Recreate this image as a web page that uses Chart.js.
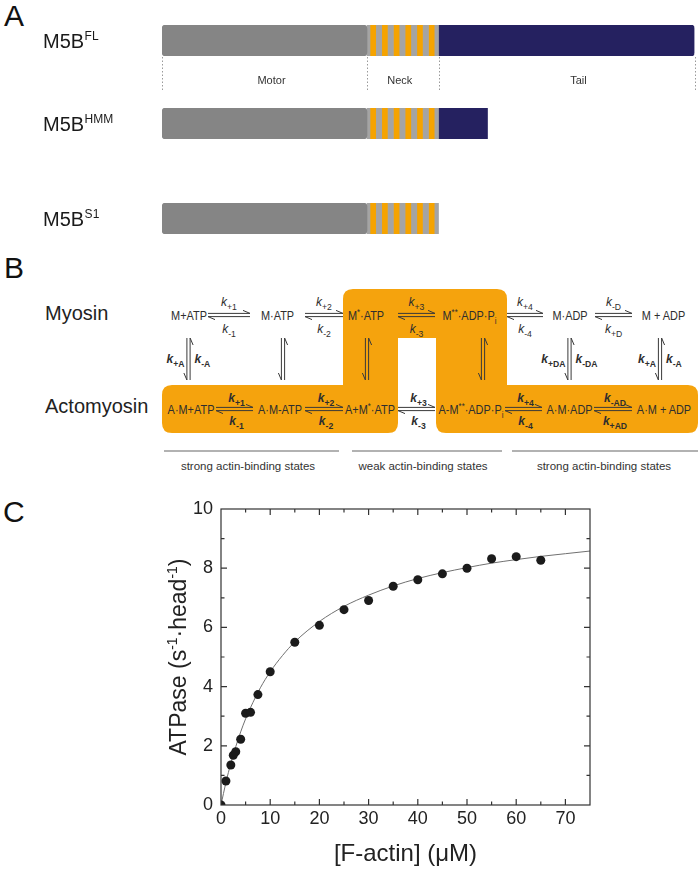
<!DOCTYPE html>
<html>
<head>
<meta charset="utf-8">
<script src="https://cdn.jsdelivr.net/npm/chart.js@4.4.1/dist/chart.umd.min.js"></script>
<style>
  body { margin: 0; background: #fff; }
  #page { position: relative; width: 700px; height: 869px; overflow: hidden; }
  #page canvas, #page svg { position: absolute; left: 0; }
</style>
</head>
<body>
<div id="page">
  <svg id="scheme" width="700" height="869" style="top:0"></svg>
  <canvas id="atpase" width="700" height="409" style="top:460px"></canvas>
</div>
<script>
// --- panel A: domain maps (arbitrary length units) ---
var constructs = ['FL', 'HMM', 'S1'];
var motorLength = [205, 205, 205];
var neckParts = [3, 5.7, 6, 5.7, 6, 5.7, 6, 5.7, 6, 5.7, 6, 5.7, 4.3]; // linker, IQ, linker, IQ ...
var tailLength = [256, 49, 0];
var domainNames = ['Motor', 'Neck', 'Tail'];

// --- panel C: actin-activated ATPase ---
var actinConc = [0, 1, 2, 2.5, 3, 4, 5, 6, 7.5, 10, 15, 20, 25, 30, 35, 40, 45, 50, 55, 60, 65];
var atpaseRate = [0, 0.81, 1.35, 1.68, 1.80, 2.22, 3.10, 3.13, 3.73, 4.50, 5.50, 6.07, 6.60, 6.91, 7.39, 7.61, 7.81, 8.00, 8.32, 8.39, 8.27];
var fitConc = [0, 1, 2, 3, 4, 5, 6, 8, 10, 12.5, 15, 20, 25, 30, 35, 40, 45, 50, 55, 60, 65, 70, 75];
var fitRate = [0, 0.76, 1.41, 1.97, 2.47, 2.91, 3.29, 3.96, 4.50, 5.05, 5.51, 6.20, 6.71, 7.09, 7.40, 7.65, 7.85, 8.02, 8.17, 8.29, 8.40, 8.49, 8.58];
var xTicks = [0, 10, 20, 30, 40, 50, 60, 70];
var yTicks = [0, 2, 4, 6, 8, 10];

var SANS = "'Liberation Sans', Arial, sans-serif";
var page = document.getElementById('page');

// ================= panel A =================
var rowTop = [25, 108, 202.5];
var domainLabelShift = [7, -3, 12];
var neckTotal = neckParts.reduce(function (a, b) { return a + b; }, 0);
var fullLength = motorLength[0] + neckTotal + tailLength[0];

var nameTag = {
  id: 'nameTag',
  afterDraw: function (chart) {
    var c = chart.ctx, a = chart.chartArea;
    var base = (a.top + a.bottom) / 2 + 7;
    c.save();
    c.fillStyle = '#1a1a1a';
    c.font = '20px ' + SANS;
    c.fillText('M5B', 43, base);
    var w = c.measureText('M5B').width;
    c.font = '12px ' + SANS;
    c.fillText(chart.data.labels[0], 43 + w + 0.5, base - 7.5);
    c.restore();
  }
};

var domainGuide = {
  id: 'domainGuide',
  afterDraw: function (chart) {
    var c = chart.ctx, a = chart.chartArea, xs = chart.scales.x;
    var edges = [0, motorLength[0], motorLength[0] + neckTotal, fullLength];
    c.save();
    c.strokeStyle = '#9a9a9a';
    c.lineWidth = 1;
    c.setLineDash([1.5, 2]);
    edges.forEach(function (v) {
      var px = Math.round(xs.getPixelForValue(v)) + 0.5;
      c.beginPath(); c.moveTo(px, a.bottom + 1); c.lineTo(px, a.bottom + 36); c.stroke();
    });
    c.fillStyle = '#333';
    c.font = '11px ' + SANS;
    c.textAlign = 'center';
    domainNames.forEach(function (n, k) {
      c.fillText(n, xs.getPixelForValue((edges[k] + edges[k + 1]) / 2) + domainLabelShift[k], a.bottom + 28);
    });
    c.restore();
  }
};

constructs.forEach(function (name, i) {
  var sets = [];
  var pos = motorLength[i];
  sets.push({ label: 'Motor', data: [[0, pos]], backgroundColor: '#858585', borderRadius: 4 });
  neckParts.forEach(function (w, j) {
    sets.push({ label: j % 2 ? 'IQ' : 'linker', data: [[pos, pos + w]],
      backgroundColor: j % 2 ? '#f5a300' : '#a4a4a4', borderRadius: 0 });
    pos += w;
  });
  if (tailLength[i] > 0) {
    sets.push({ label: 'Tail', data: [[pos, pos + tailLength[i]]], backgroundColor: '#252160',
      borderRadius: i === 0 ? { topLeft: 0, bottomLeft: 0, topRight: 4, bottomRight: 4 } : 0 });
  }
  sets.forEach(function (s) {
    s.borderSkipped = false; s.grouped = false; s.barPercentage = 1; s.categoryPercentage = 1;
  });

  var padTop = i === 0 ? 25 : 10;
  var h = i === 0 ? 100 : 51;
  var cv = document.createElement('canvas');
  cv.width = 700; cv.height = h;
  cv.style.top = (rowTop[i] - padTop) + 'px';
  page.appendChild(cv);

  new Chart(cv, {
    type: 'bar',
    data: { labels: [name], datasets: sets },
    options: {
      indexAxis: 'y',
      responsive: false,
      animation: false,
      layout: { padding: { left: 162, right: 700 - 162 - fullLength, top: padTop, bottom: h - padTop - 31 } },
      plugins: { legend: { display: false }, tooltip: { enabled: false } },
      scales: {
        x: { type: 'linear', min: 0, max: fullLength, display: false },
        y: { display: false }
      }
    },
    plugins: i === 0 ? [nameTag, domainGuide] : [nameTag]
  });
});

// ================= panel B (kinetic scheme, svg) =================
var S = document.getElementById('scheme');
function add(tag, attrs, parent) {
  var e = document.createElementNS('http://www.w3.org/2000/svg', tag);
  for (var k in attrs) e.setAttribute(k, attrs[k]);
  (parent || S).appendChild(e);
  return e;
}
function text(x, y, parts, o) {
  var size = o.size;
  var t = add('text', { x: 0, y: 0, transform: 'translate(' + x + ' ' + y + ') scale(' + (o.squeeze || 1) + ' 1)',
    'text-anchor': o.anchor || 'middle', 'font-size': size, 'font-family': SANS,
    'font-weight': o.bold ? 'bold' : 'normal', fill: o.color || '#2e2e2e' });
  var shift = 0;
  parts.forEach(function (p) {
    if (typeof p === 'string') p = [p, ''];
    var target = p[1] === 'sup' ? -size * 0.38 : p[1] === 'sub' ? size * 0.3 : 0;
    var ts = add('tspan', { dy: target - shift }, t);
    if (p[1]) ts.setAttribute('font-size', size * 0.72);
    if (p[2]) ts.setAttribute('font-style', 'italic');
    ts.textContent = p[0];
    shift = target;
  });
}
function rate(x, y, sub, bold, anchor) {
  text(x, y, [['k', '', 'i'], [sub, 'sub']], { size: 12, bold: bold, anchor: anchor });
}

// orange background of the actin-bound / hydrolysis states
var r = 10;
add('path', { fill: '#f5a30d', d:
  'M' + (343 + r) + ' 289H' + (507 - r) + 'Q507 289 507 ' + (289 + r) + 'V385H' + (698 - r) +
  'Q698 385 698 ' + (385 + r) + 'V' + (433 - r) + 'Q698 433 ' + (698 - r) + ' 433H' + (436 + r) +
  'Q436 433 436 ' + (433 - r) + 'V338H398V' + (433 - r) + 'Q398 433 ' + (398 - r) + ' 433H' + (162 + r) +
  'Q162 433 162 ' + (433 - r) + 'V' + (385 + r) + 'Q162 385 ' + (162 + r) + ' 385H343V' + (289 + r) +
  'Q343 289 ' + (343 + r) + ' 289Z' });

// panel letters and row names
text(4, 26, ['A'], { size: 30, anchor: 'start', color: '#111' });
text(4, 278, ['B'], { size: 30, anchor: 'start', color: '#111' });
text(3, 522, ['C'], { size: 30, anchor: 'start', color: '#111' });
text(45, 320, ['Myosin'], { size: 20, anchor: 'start', color: '#222' });
text(45, 413, ['Actomyosin'], { size: 20, anchor: 'start', color: '#222' });

// species
var row1 = [[189, ['M+ATP']], [277.5, ['M·ATP']], [366, ['M', ['*', 'sup'], '·ATP']],
  [469.5, ['M', ['**', 'sup'], '·ADP·P', ['i', 'sub']]], [570, ['M·ADP']], [663.5, ['M + ADP']]];
var row2 = [[191, ['A·M+ATP']], [280, ['A·M-ATP']], [370, ['A+M', ['*', 'sup'], '·ATP']],
  [471, ['A-M', ['**', 'sup'], '·ADP·P', ['i', 'sub']]], [569.5, ['A·M·ADP']], [664, ['A·M + ADP']]];
row1.forEach(function (s) { text(s[0], 320, s[1], { size: 13, squeeze: 0.84 }); });
row2.forEach(function (s) { text(s[0], 414, s[1], { size: 13, squeeze: 0.84 }); });

// arrows
var arrows = '';
function eq(x1, x2, y) {
  arrows += 'M' + x1 + ' ' + (y - 1.6) + 'H' + x2 + 'L' + (x2 - 7) + ' ' + (y - 4.6) +
            'M' + x2 + ' ' + (y + 1.6) + 'H' + x1 + 'L' + (x1 + 7) + ' ' + (y + 4.6);
}
function vert(x, y1, y2) {
  arrows += 'M' + (x - 1.6) + ' ' + y1 + 'V' + y2 + 'L' + (x - 4.6) + ' ' + (y2 - 7) +
            'M' + (x + 1.6) + ' ' + y2 + 'V' + y1 + 'L' + (x + 4.6) + ' ' + (y1 + 7);
}
var row1Eq = [[208, 250, '+1', '-1'], [305, 343, '+2', '-2'], [398, 435, '+3', '-3'], [507, 543, '+4', '-4'], [595, 632, '-D', '+D']];
var row2Eq = [[216, 253, '+1', '-1'], [305, 343, '+2', '-2'], [398, 435, '+3', '-3'], [505, 542, '+4', '-4'], [594, 632, '-AD', '+AD']];
row1Eq.forEach(function (e) {
  eq(e[0], e[1], 315);
  rate((e[0] + e[1]) / 2, 306, e[2], false);
  rate((e[0] + e[1]) / 2, 333, e[3], false);
});
row2Eq.forEach(function (e) {
  eq(e[0], e[1], 409);
  rate((e[0] + e[1]) / 2 + 2, 402, e[2], true);
  rate((e[0] + e[1]) / 2 + 2, 425, e[3], true);
});
var verticals = [[188.5, '+A', '-A'], [283], [367], [483], [569.5, '+DA', '-DA'], [660, '+A', '-A']];
verticals.forEach(function (v) {
  vert(v[0], 338, 380);
  if (v[1]) {
    rate(v[0] - 4, 363, v[1], true, 'end');
    rate(v[0] + 6, 363, v[2], true, 'start');
  }
});
add('path', { d: arrows, fill: 'none', stroke: '#3a3a3a', 'stroke-width': 1 });

// state groups
[[164, 339, 248, 'strong actin-binding states'], [352, 502, 423, 'weak actin-binding states'],
 [512, 698, 604, 'strong actin-binding states']].forEach(function (g) {
  add('line', { x1: g[0], x2: g[1], y1: 451, y2: 451, stroke: '#999', 'stroke-width': 1.5 });
  text(g[2], 470, [g[3]], { size: 11.5, color: '#333' });
});

// ================= panel C =================
var boxTicks = {
  id: 'boxTicks',
  afterDraw: function (chart) {
    var c = chart.ctx, a = chart.chartArea, xs = chart.scales.x, ys = chart.scales.y, v, p, len;
    c.save();
    c.strokeStyle = '#333';
    c.lineWidth = 1.2;
    c.strokeRect(a.left, a.top, a.right - a.left, a.bottom - a.top);
    c.beginPath();
    for (v = 5; v < 75; v += 5) {
      p = xs.getPixelForValue(v); len = v % 10 ? 3.5 : 6;
      c.moveTo(p, a.bottom); c.lineTo(p, a.bottom - len);
      c.moveTo(p, a.top); c.lineTo(p, a.top + len);
    }
    for (v = 1; v < 10; v++) {
      p = ys.getPixelForValue(v); len = v % 2 ? 3.5 : 6;
      c.moveTo(a.left, p); c.lineTo(a.left + len, p);
      c.moveTo(a.right, p); c.lineTo(a.right - len, p);
    }
    c.stroke();

    // y title with real superscripts
    var parts = [['ATPase (s', 0], ['-1', 1], ['·head', 0], ['-1', 1], [')', 0]];
    var big = '23px ' + SANS, small = '14px ' + SANS, total = 0;
    parts.forEach(function (p) { c.font = p[1] ? small : big; total += c.measureText(p[0]).width; });
    c.translate(180, (a.top + a.bottom) / 2);
    c.rotate(-Math.PI / 2);
    c.fillStyle = '#222';
    c.textBaseline = 'middle';
    var x = -total / 2;
    parts.forEach(function (p) {
      c.font = p[1] ? small : big;
      c.fillText(p[0], x, p[1] ? -7 : 0);
      x += c.measureText(p[0]).width;
    });
    c.restore();
  }
};

new Chart(document.getElementById('atpase'), {
  type: 'scatter',
  data: {
    datasets: [
      {
        label: 'hyperbolic fit',
        data: fitConc.map(function (x, i) { return { x: x, y: fitRate[i] }; }),
        showLine: true,
        pointRadius: 0,
        borderColor: '#707070',
        borderWidth: 1,
        cubicInterpolationMode: 'monotone',
        order: 2
      },
      {
        label: 'M5B HMM',
        data: actinConc.map(function (x, i) { return { x: x, y: atpaseRate[i] }; }),
        pointRadius: 4.5,
        pointBackgroundColor: '#1b1b1b',
        pointBorderWidth: 0,
        order: 1
      }
    ]
  },
  options: {
    responsive: false,
    animation: false,
    layout: { padding: { left: 166, right: 110, top: 49, bottom: 0 } },
    plugins: { legend: { display: false }, tooltip: { enabled: false } },
    scales: {
      x: {
        type: 'linear', min: 0, max: 75,
        grid: { display: false, drawTicks: false },
        border: { display: false },
        afterBuildTicks: function (s) { s.ticks = xTicks.map(function (v) { return { value: v }; }); },
        afterFit: function (s) { s.height = 64; },
        ticks: { color: '#222', padding: 3, maxRotation: 0, font: { size: 18, family: SANS } },
        title: { display: true, text: '[F-actin] (μM)', color: '#222', padding: 0, font: { size: 24, family: SANS } }
      },
      y: {
        min: 0, max: 10,
        grid: { display: false, drawTicks: false },
        border: { display: false },
        afterBuildTicks: function (s) { s.ticks = yTicks.map(function (v) { return { value: v }; }); },
        afterFit: function (s) { s.width = 55; },
        ticks: { color: '#222', padding: 8, font: { size: 18, family: SANS } }
      }
    }
  },
  plugins: [boxTicks]
});
</script>
</body>
</html>
